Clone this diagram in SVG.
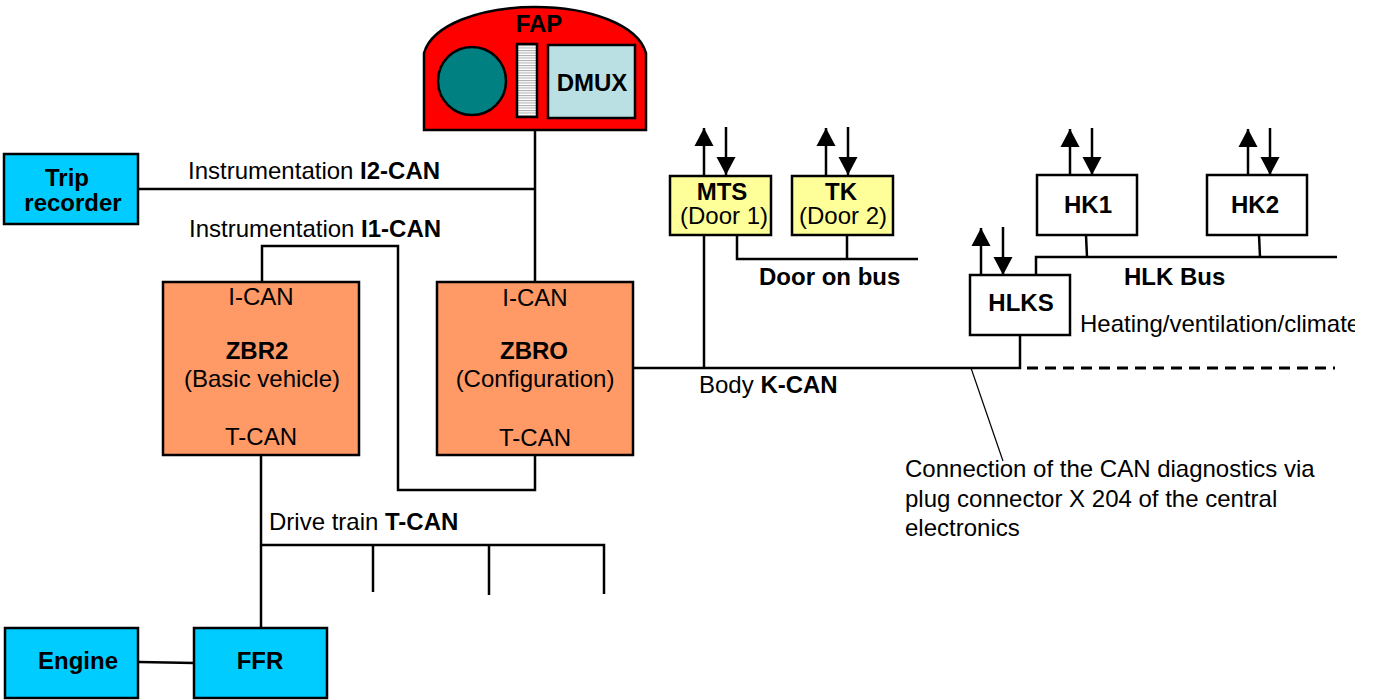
<svg xmlns="http://www.w3.org/2000/svg" width="1375" height="700" viewBox="0 0 1375 700">
<style>
text{font-family:"Liberation Sans",Arial,sans-serif;font-size:24px;fill:#000}
.b{font-weight:bold}
.m{text-anchor:middle}
.box{stroke:#000;stroke-width:2.5}
.cy{fill:#00ccff}.or{fill:#ff9966}.ye{fill:#ffff99}.wh{fill:#fff}
#connectors path{fill:none;stroke:#000;stroke-width:2.5}
#connectors path.arr{marker-end:url(#ah)}
</style>
<defs>
<marker id="ah" markerUnits="userSpaceOnUse" markerWidth="20" markerHeight="20" refX="18" refY="10" orient="auto"><path d="M0,0.5L18,10L0,19.5Z" fill="#000"/></marker>
<pattern id="st" width="3" height="2.5" patternUnits="userSpaceOnUse"><rect width="3" height="2.5" fill="#fff"/><rect width="3" height="1" fill="#aaa"/></pattern>
<clipPath id="cl"><rect x="1060" y="300" width="295" height="50"/></clipPath>
</defs>
<rect width="1375" height="700" fill="#fff"/>
<g id="connectors">
<path d="M535,130V282"/>
<path d="M139,189H535"/>
<path d="M262,282V246H398V490H535V455"/>
<path d="M261,455V628"/>
<path d="M261,545H604V594"/>
<path d="M373,545V592"/>
<path d="M489,545V595"/>
<path d="M139,662L194,663"/>
<path d="M634,368H1020V335"/>
<path d="M1027,368H1335" style="stroke-dasharray:11 7;stroke-width:3"/>
<path d="M971,368L1003,461" style="stroke-width:1.2"/>
<path d="M704,235V368"/>
<path d="M737,235V259H918"/>
<path d="M847,235V259"/>
<path d="M1036,276V257H1337"/>
<path d="M1086,235L1087,257"/>
<path d="M1259,235L1260,257"/>
<path class="arr" d="M704,175V128"/>
<path class="arr" d="M726,127V175"/>
<path class="arr" d="M826,175V128"/>
<path class="arr" d="M848,127V175"/>
<path class="arr" d="M1070,175V129"/>
<path class="arr" d="M1092,128V175"/>
<path class="arr" d="M1248,175V129"/>
<path class="arr" d="M1270,128V175"/>
<path class="arr" d="M981,275V228"/>
<path class="arr" d="M1003,227V275"/>
</g>
<g id="FAP">
<path d="M424,130V53C432,25 480,7 535,7C590,7 638,25 646,53V130Z" fill="#ff0000" stroke="#000" stroke-width="2.5"/>
<circle cx="472" cy="81" r="34" fill="#008080" stroke="#000" stroke-width="2.5"/>
<rect class="box" x="517" y="44" width="20" height="73" fill="url(#st)"/>
<rect class="box" x="548" y="45" width="87" height="73" fill="#bbe0e3"/>
<text class="b m" x="539" y="32">FAP</text>
<text class="b m" x="592" y="91">DMUX</text>
</g>
<g id="TripRecorder">
<rect class="box cy" x="4" y="154" width="134" height="70"/>
<text class="b m" x="67" y="186">Trip</text>
<text class="b m" x="73" y="211">recorder</text>
</g>
<g id="ZBR2">
<rect class="box or" x="163" y="282" width="196" height="173"/>
<text class="m" x="261" y="305">I-CAN</text>
<text class="b m" x="257" y="359">ZBR2</text>
<text class="m" x="262" y="387">(Basic vehicle)</text>
<text class="m" x="261" y="445">T-CAN</text>
</g>
<g id="ZBRO">
<rect class="box or" x="437" y="282" width="196" height="173"/>
<text class="m" x="535" y="306">I-CAN</text>
<text class="b m" x="534" y="359">ZBRO</text>
<text class="m" x="535" y="387">(Configuration)</text>
<text class="m" x="535" y="446">T-CAN</text>
</g>
<g id="MTS">
<rect class="box ye" x="670" y="176" width="101" height="59"/>
<text class="b m" x="722" y="200">MTS</text>
<text class="m" x="724" y="224">(Door 1)</text>
</g>
<g id="TK">
<rect class="box ye" x="792" y="176" width="101" height="59"/>
<text class="b m" x="841" y="200">TK</text>
<text class="m" x="843" y="224">(Door 2)</text>
</g>
<g id="HK1">
<rect class="box wh" x="1037" y="175" width="100" height="60"/>
<text class="b m" x="1088" y="213">HK1</text>
</g>
<g id="HK2">
<rect class="box wh" x="1207" y="175" width="100" height="60"/>
<text class="b m" x="1255" y="213">HK2</text>
</g>
<g id="HLKS">
<rect class="box wh" x="970" y="275" width="100" height="60"/>
<text class="b m" x="1021" y="311">HLKS</text>
</g>
<g id="Engine">
<rect class="box cy" x="5" y="628" width="133" height="70"/>
<text class="b m" x="78" y="669">Engine</text>
</g>
<g id="FFR">
<rect class="box cy" x="194" y="628" width="133" height="70"/>
<text class="b m" x="260" y="669">FFR</text>
</g>
<g id="labels">
<text x="188" y="179">Instrumentation <tspan class="b">I2-CAN</tspan></text>
<text x="189" y="237">Instrumentation <tspan class="b">I1-CAN</tspan></text>
<text x="699" y="393">Body <tspan class="b">K-CAN</tspan></text>
<text x="269" y="530">Drive train <tspan class="b">T-CAN</tspan></text>
<text class="b" x="759" y="285">Door on bus</text>
<text class="b" x="1124" y="285">HLK Bus</text>
<text x="1080" y="332" clip-path="url(#cl)">Heating/ventilation/climate</text>
<text x="905" y="477">Connection of the CAN diagnostics via</text>
<text x="905" y="507">plug connector X 204 of the central</text>
<text x="905" y="536">electronics</text>
</g>
</svg>
